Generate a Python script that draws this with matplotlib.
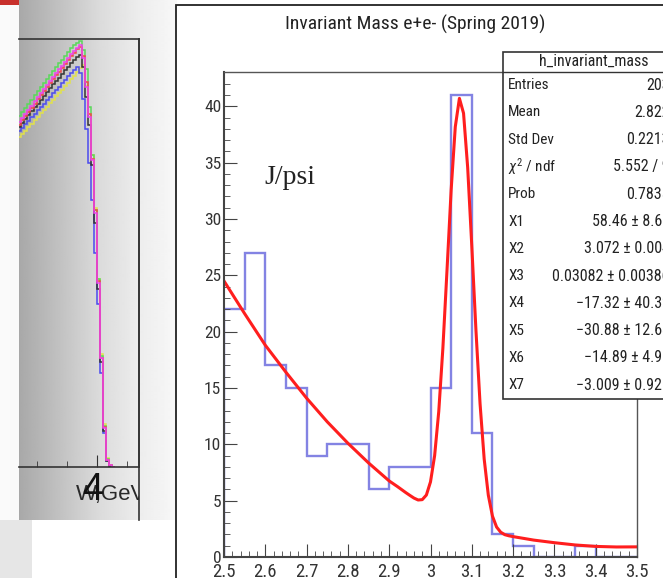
import numpy as np
import matplotlib
matplotlib.use("Agg")
import matplotlib.pyplot as plt
from matplotlib import font_manager as fm
from matplotlib.patches import Rectangle
from matplotlib.transforms import Bbox

# ---------------- invariant mass histogram (20 bins of 50 MeV) ----------------
mass_lo, mass_hi, bin_w = 2.5, 3.5, 0.05
counts = [22, 27, 17, 15, 9, 10, 10, 6, 8, 8, 15, 41, 11, 2, 1, 0, 0, 1, 0, 0]

# fitted curve (gaussian + background), sampled along x
fit_x = [2.50, 2.55, 2.60, 2.65, 2.70, 2.75, 2.80, 2.85, 2.90, 2.92, 2.94, 2.95,
         2.96, 2.97, 2.98, 2.99, 3.00, 3.01, 3.02, 3.03, 3.04, 3.05, 3.06, 3.07,
         3.08, 3.09, 3.10, 3.11, 3.12, 3.13, 3.14, 3.15, 3.16, 3.17, 3.18, 3.19,
         3.20, 3.25, 3.30, 3.35, 3.40, 3.45, 3.50]
fit_y = [24.5, 21.6, 18.8, 16.4, 14.1, 12.0, 10.1, 8.35, 6.75, 6.25, 5.72, 5.47,
         5.23, 5.06, 5.09, 5.50, 6.67, 9.00, 12.92, 18.55, 25.48, 32.58, 38.18, 40.71,
         39.39, 34.58, 27.60, 20.15, 13.60, 8.69, 5.49, 3.63, 2.66, 2.20, 1.98, 1.88,
         1.81, 1.50, 1.27, 1.07, 0.94, 0.89, 0.90]

stat_names = ["Entries", "Mean", "Std Dev", r"$\chi^2$ / ndf", "Prob",
              "X1", "X2", "X3", "X4", "X5", "X6", "X7"]
stat_values = ["203", "2.822", "0.2213", "5.552 / 9", "0.7835",
               "58.46 \u00b1 8.68", "3.072 \u00b1 0.004", "0.03082 \u00b1 0.00386",
               "\u221217.32 \u00b1 40.32", "\u221230.88 \u00b1 12.63",
               "\u221214.89 \u00b1 4.95", "\u22123.009 \u00b1 0.921"]

# ---------------- W spectra from the neighbouring panel ----------------
w_lo, w_bin = 3.35, 0.025
w_magenta = [80.5, 81.5, 82.5, 83.4, 84.4, 85.4, 86.4, 87.3, 88.3, 89.2, 90.2, 91.1,
             92.0, 92.9, 93.8, 94.7, 95.6, 96.5, 97.3, 98.0, 98.6, 95.6, 88.8, 81.8,
             71.7, 59.3, 43.0, 25.5, 9.1, 1.6, 0.5, 0.0]
w_green = [81.9, 82.9, 83.9, 84.9, 85.8, 86.8, 87.8, 88.7, 89.7, 90.6, 91.6, 92.5,
           93.4, 94.3, 95.2, 96.1, 97.0, 97.8, 98.5, 99.1, 99.5, 97.4, 93.0, 84.0,
           73.0, 60.0, 44.0, 26.0, 9.5, 1.8, 0.5, 0.0]
w_red = [80.0, 81.0, 82.0, 83.0, 83.9, 84.9, 85.9, 86.8, 87.8, 88.7, 89.7, 90.6,
         91.5, 92.4, 93.3, 94.2, 95.1, 96.0, 96.8, 97.6, 98.2, 96.0, 90.0, 82.5,
         72.0, 60.0, 43.5, 25.5, 9.3, 1.6, 0.4, 0.0]
w_black = [79.5, 80.4, 81.3, 82.2, 83.1, 84.0, 84.9, 85.8, 86.7, 87.6, 88.5, 89.4,
           90.2, 91.0, 91.9, 92.7, 93.5, 94.3, 95.0, 95.7, 96.3, 93.5, 86.5, 80.0,
           70.5, 57.0, 41.5, 24.5, 8.5, 1.3, 0.3, 0.0]
w_blue = [78.5, 79.3, 80.1, 80.9, 81.7, 82.5, 83.3, 84.1, 84.9, 85.7, 86.5, 87.3,
          88.1, 88.9, 89.7, 90.5, 91.3, 92.0, 92.8, 93.5, 92.0, 86.0, 79.0, 71.0,
          62.5, 50.0, 38.0, 22.0, 8.0, 1.5, 0.3, 0.0]
w_yellow = [77.0, 77.8, 78.6, 79.4, 80.2, 81.0, 81.8, 82.6, 83.4, 84.2, 85.0, 85.8,
            86.6, 87.4, 88.2, 89.0, 89.8, 90.6, 91.4, 92.2, 93.2, 94.0, 89.0, 82.5,
            73.0, 60.5, 44.0, 26.5, 10.0, 2.0, 0.5, 0.0]

W, H = 663, 578


def narrow_font():
    """Pick a condensed sans if one is installed; otherwise plain Liberation Sans,
    drawn a bit smaller so string widths stay about the same."""
    for fam in ["Liberation Sans Narrow", "Arial Narrow", "Noto Sans Condensed",
                "DejaVu Sans Condensed", "Roboto Condensed"]:
        try:
            fm.findfont(fm.FontProperties(family=fam), fallback_to_default=False)
            return fam, None, 1.0
        except ValueError:
            pass
    for fam in ["Noto Sans", "DejaVu Sans"]:
        path = fm.findfont(fm.FontProperties(family=fam, stretch="condensed"))
        if "ondensed" in path:
            return fam, "condensed", 1.0
    return "Liberation Sans", None, 0.83


SANS, STRETCH, K = narrow_font()
plt.rcParams["font.family"] = [SANS, "DejaVu Sans"]
if STRETCH:
    plt.rcParams["font.stretch"] = STRETCH
plt.rcParams["mathtext.fontset"] = "custom"
plt.rcParams["mathtext.rm"] = SANS
plt.rcParams["mathtext.it"] = SANS + ":italic"


def fs(pt):
    return pt * K


def frect(x0, y0, x1, y1):
    """pixel box (top-left origin) -> figure fraction rect"""
    return [x0 / W, 1 - y1 / H, (x1 - x0) / W, (y1 - y0) / H]


fig = plt.figure(figsize=(W / 100, H / 100), dpi=100)
fig.patch.set_facecolor("white")

# background layer in pixel coordinates
bg = fig.add_axes([0, 0, 1, 1])
bg.set_xlim(0, W); bg.set_ylim(H, 0); bg.axis("off")
bg.add_patch(Rectangle((0, 0), 19, 520, color="#fafafa", lw=0))
bg.add_patch(Rectangle((0, 520), 32, 58, color="#e6e6e6", lw=0))
bg.add_patch(Rectangle((0, 0), 19, 5, color="#c8302c", lw=0))
xs = np.arange(19, 177)
shade = np.interp(xs, [19, 60, 100, 140, 176], [0.66, 0.76, 0.86, 0.93, 0.97])
bg.imshow(np.tile(shade, (2, 1)), cmap="gray", vmin=0, vmax=1, aspect="auto",
          extent=(19, 177, 520, 0), interpolation="bilinear")
bg.add_patch(Rectangle((176, 5), 520, 600, facecolor="white", edgecolor="#222222", lw=1.3))
fade = np.linspace(0, 1, 50)[:, None] ** 1.5
bg.imshow(np.dstack([np.full((50, 1), 0.86)] * 3 + [fade * 0.7]), aspect="auto",
          extent=(177, W, 578, 522), interpolation="bilinear")
bg.plot([139, 139], [39, 520], color="#333333", lw=1.2)
bg.set_xlim(0, W); bg.set_ylim(H, 0)

# neighbouring W panel (only its right part is visible)
axl = fig.add_axes(frect(19, 39, 139, 467))
axl.patch.set_alpha(0)
w_edges = w_lo + w_bin * np.arange(len(w_magenta) + 1)
for vals, col in [(w_yellow, "#e2e24a"), (w_green, "#5ad85a"), (w_blue, "#4a4aee"),
                  (w_black, "#333333"), (w_red, "#f04a4a"), (w_magenta, "#ee44ee")]:
    axl.stairs(vals, w_edges, color=col, lw=1.1, baseline=None)
axl.set_xlim(3.355, 4.347); axl.set_ylim(0, 100)
axl.spines["left"].set_visible(False)
for s in ("top", "right", "bottom"):
    axl.spines[s].set_color("#333333"); axl.spines[s].set_linewidth(1.2)
axl.set_yticks([])
axl.set_xticks([4.0]); axl.set_xticks([3.5, 3.75, 4.25], minor=True)
axl.tick_params(axis="x", which="major", direction="in", length=9, color="#333333", labelbottom=False)
axl.tick_params(axis="x", which="minor", direction="in", length=4, color="#333333")

# main ROOT-style histogram
ax = fig.add_axes(frect(224, 72, 637, 557))
ax.patch.set_alpha(0)
edges = mass_lo + bin_w * np.arange(len(counts) + 1)
ax.stairs(counts, edges, color="#6464dc", lw=1.7, alpha=0.8)
ax.plot(fit_x, fit_y, color="#ff1e1e", lw=2.2, solid_joinstyle="round")
ax.set_xlim(mass_lo, mass_hi)
ax.set_ylim(0, 43.05)
ax.set_xticks(np.arange(2.5, 3.51, 0.1))
ax.set_xticklabels(["2.5", "2.6", "2.7", "2.8", "2.9", "3", "3.1", "3.2", "3.3", "3.4", "3.5"])
ax.set_xticks(np.arange(2.5, 3.51, 0.02), minor=True)
ax.set_yticks(range(0, 41, 5))
ax.set_yticks(range(0, 43), minor=True)
ax.tick_params(which="both", direction="in", color="#444444", labelcolor="#333333",
               labelsize=fs(12.5))
ax.tick_params(axis="x", labelsize=fs(13.5))
ax.tick_params(axis="y", which="major", length=9, pad=2)
ax.tick_params(axis="y", which="minor", length=4.5)
ax.tick_params(axis="x", which="major", length=9.5, pad=4.5)
ax.tick_params(axis="x", which="minor", length=4.5)
for s in ("left", "bottom"):
    ax.spines[s].set_color("#444444"); ax.spines[s].set_linewidth(1.5)
for s in ("top", "right"):
    ax.spines[s].set_color("#555555"); ax.spines[s].set_linewidth(1.0)

# text layer
ov = fig.add_axes([0, 0, 1, 1], zorder=10)
ov.set_xlim(0, W); ov.set_ylim(H, 0); ov.axis("off"); ov.patch.set_alpha(0)

ov.text(415, 24, "Invariant Mass e+e- (Spring 2019)", ha="center", va="center",
        fontsize=fs(14), color="#222222")
ov.text(264, 178, "J/psi", ha="left", va="center", fontsize=20,
        family=["Liberation Serif", "DejaVu Serif"], color="#222222")

ov.add_patch(Rectangle((503, 52), 200, 347, facecolor="white", edgecolor="#333333", lw=1.2))
ov.plot([503, W], [72, 72], color="#333333", lw=1.0)
ov.text(594, 61, "h_invariant_mass", ha="center", va="center", fontsize=fs(11.5), color="#222222")
for i, (name, val) in enumerate(zip(stat_names, stat_values)):
    y = 85 + 27.3 * i
    ov.text(508, y, name, ha="left", va="center", fontsize=fs(11), color="#222222")
    ov.text(670, y, val, ha="right", va="center", fontsize=fs(11.5), color="#222222")

# axis title of the W panel, clipped at its frame
t1 = ov.text(76, 500, "W,GeV", ha="left", va="baseline", fontsize=16,
             family=["Liberation Sans", "DejaVu Sans"], color="#2a2a2a")
t1.set_clip_box(Bbox([[19, 0], [139, H]]))
t1.set_clip_on(True)
ov.text(93, 500, "4", ha="center", va="baseline", fontsize=27,
        family=["Liberation Sans", "DejaVu Sans"], color="#111111")

fig.savefig("out.png", dpi=100)
